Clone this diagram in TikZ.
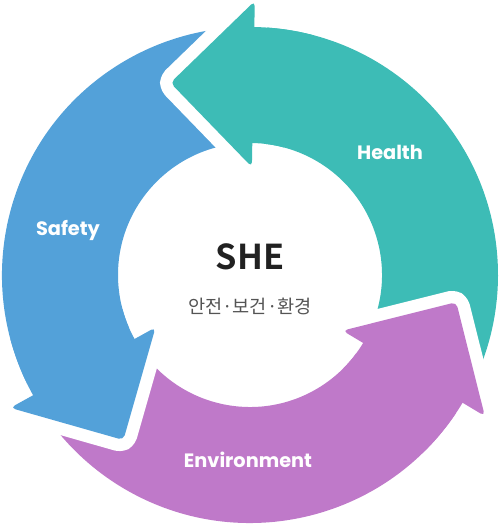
\documentclass[tikz,border=0pt]{standalone}
\usepackage{fontspec}
\setmainfont{Poppins}
\newfontfamily\krfont{Noto Sans CJK KR}[BoldFont={Noto Sans CJK KR Bold}]
\usepackage{xcolor}
\usepackage{tikz}
\definecolor{healthteal}{HTML}{3DBCB6}
\definecolor{safetyblue}{HTML}{53A1D9}
\definecolor{envpurple}{HTML}{BF79C9}
\tikzstyle{steptext} = [text=white, font=\bfseries\fontsize{11}{13}\selectfont]
\tikzstyle{headgap} = [draw=white, fill=white, line width=5mm, line join=round, rounded corners=1mm]
\tikzstyle{headfill} = [rounded corners=1mm]

\begin{document}
\begin{tikzpicture}[x=0.02cm, y=0.02cm]
\useasboundingbox (-250,-252) rectangle (250,275);

% Place bands
\fill [healthteal] (-28:132) arc[start angle=-28, end angle=89, radius=132] -- (89:248) arc[start angle=89, end angle=-28, radius=248] -- cycle;
\fill [safetyblue] (92:132) arc[start angle=92, end angle=209, radius=132] -- (209:248) arc[start angle=209, end angle=92, radius=248] -- cycle;
\fill [envpurple] (212:132) arc[start angle=212, end angle=329, radius=132] -- (329:248) arc[start angle=329, end angle=212, radius=248] -- cycle;

% Place heads
\draw [headgap] (89:108) -- (112.5:208) -- (89:274) -- cycle;
\fill [healthteal, headfill] (89:108) -- (112.5:208) -- (89:274) -- cycle;
\fill [healthteal] (75:132) arc[start angle=75, end angle=91, radius=132] -- (91:248) arc[start angle=91, end angle=75, radius=248] -- cycle;

\draw [headgap] (209:108) -- (232.5:208) -- (209:274) -- cycle;
\fill [safetyblue, headfill] (209:108) -- (232.5:208) -- (209:274) -- cycle;
\fill [safetyblue] (195:132) arc[start angle=195, end angle=211, radius=132] -- (211:248) arc[start angle=211, end angle=195, radius=248] -- cycle;

\draw [headgap] (329:108) -- (352.5:208) -- (329:274) -- cycle;
\fill [envpurple, headfill] (329:108) -- (352.5:208) -- (329:274) -- cycle;
\fill [envpurple] (315:132) arc[start angle=315, end angle=331, radius=132] -- (331:248) arc[start angle=331, end angle=315, radius=248] -- cycle;

% Place labels
\node [steptext] (health) at (140,123) {Health};
\node [steptext] (safety) at (-182,45) {Safety};
\node [steptext] (environment) at (-2,-185) {Environment};
\node [text=black!87, font=\krfont\bfseries\fontsize{19.5}{22}\selectfont] (she) at (0,18) {SHE};
\node [text=black!67, font=\krfont\fontsize{10.6}{12}\selectfont] (korean) at (0,-31) {안전·보건·환경};

\end{tikzpicture}
\end{document}
